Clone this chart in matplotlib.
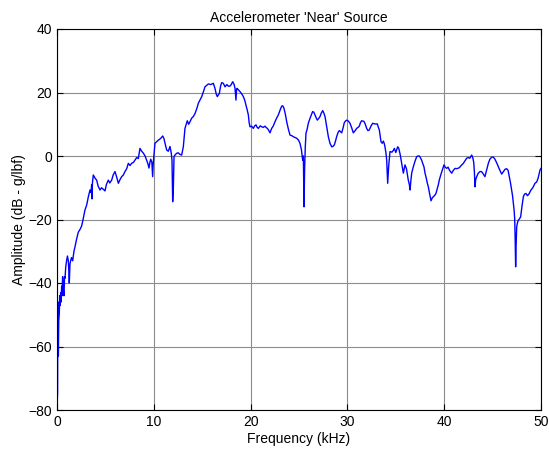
import matplotlib
matplotlib.use("Agg")
import matplotlib.pyplot as plt

freq_khz = [0.04, 0.06, 0.08, 0.1, 0.12, 0.14, 0.18, 0.24, 0.28, 0.33, 0.38, 0.43, 0.48, 0.52,
            0.58, 0.65, 0.72, 0.78, 0.83, 0.9, 1.0, 1.08, 1.17, 1.22, 1.27, 1.34, 1.41,
            1.5, 1.62, 1.75, 1.86, 2.0, 2.2, 2.4, 2.55, 2.72, 2.89, 3.07, 3.24, 3.41,
            3.52, 3.58, 3.62, 3.66, 3.75, 3.85, 3.93, 4.1, 4.25, 4.44, 4.6, 4.79, 4.96,
            5.1, 5.3, 5.45, 5.65, 5.8, 5.99, 6.15, 6.34, 6.5, 6.68, 6.85, 7.02, 7.2,
            7.37, 7.55, 7.71, 7.9, 8.06, 8.23, 8.4, 8.57, 8.75, 8.92, 9.1, 9.26, 9.4,
            9.5, 9.6, 9.68, 9.8, 9.88, 9.95, 10.12, 10.3, 10.47, 10.7, 10.92, 11.05,
            11.16, 11.33, 11.5, 11.67, 11.8, 11.88, 11.95, 12.02, 12.09, 12.19, 12.36,
            12.53, 12.7, 12.88, 13.05, 13.22, 13.35, 13.46, 13.6, 13.74, 13.91, 14.1,
            14.26, 14.45, 14.6, 14.8, 14.95, 15.1, 15.29, 15.45, 15.63, 15.9, 16.15,
            16.32, 16.45, 16.56, 16.77, 16.9, 17.01, 17.18, 17.36, 17.55, 17.7, 17.87,
            18.0, 18.15, 18.3, 18.39, 18.45, 18.49, 18.55, 18.6, 18.75, 18.9, 19.1,
            19.25, 19.4, 19.52, 19.65, 19.77, 19.85, 19.94, 20.1, 20.28, 20.42, 20.56,
            20.68, 20.8, 21.0, 21.15, 21.3, 21.49, 21.6, 21.73, 21.85, 22.0, 22.18,
            22.35, 22.52, 22.7, 22.86, 23.05, 23.21, 23.33, 23.45, 23.6, 23.73, 23.9,
            24.07, 24.25, 24.41, 24.6, 24.76, 24.95, 25.1, 25.25, 25.38, 25.45, 25.52,
            25.58, 25.65, 25.72, 25.86, 25.96, 26.14, 26.3, 26.41, 26.53, 26.65, 26.78,
            26.89, 27.03, 27.17, 27.3, 27.45, 27.57, 27.69, 27.85, 28.03, 28.2, 28.38,
            28.5, 28.65, 28.78, 28.89, 29.05, 29.17, 29.3, 29.41, 29.55, 29.68, 29.8,
            29.93, 30.1, 30.27, 30.45, 30.61, 30.8, 30.96, 31.1, 31.23, 31.35, 31.47,
            31.6, 31.71, 31.85, 31.99, 32.12, 32.26, 32.45, 32.61, 32.85, 33.09, 33.2,
            33.3, 33.4, 33.47, 33.6, 33.71, 33.8, 33.88, 33.98, 34.06, 34.11, 34.16,
            34.21, 34.26, 34.33, 34.4, 34.6, 34.75, 34.85, 35.0, 35.1, 35.19, 35.3,
            35.45, 35.61, 35.7, 35.78, 35.87, 35.95, 36.1, 36.29, 36.4, 36.47, 36.55,
            36.64, 36.81, 37.0, 37.16, 37.3, 37.43, 37.55, 37.67, 37.8, 37.91, 38.02,
            38.15, 38.26, 38.36, 38.5, 38.64, 38.75, 38.88, 39.0, 39.15, 39.27, 39.39,
            39.5, 39.64, 39.8, 39.98, 40.1, 40.26, 40.4, 40.55, 40.77, 40.95, 41.12,
            41.3, 41.56, 41.75, 41.98, 42.15, 42.32, 42.5, 42.65, 42.84, 42.95, 43.05,
            43.12, 43.18, 43.25, 43.36, 43.5, 43.7, 43.85, 44.0, 44.21, 44.38, 44.56,
            44.72, 44.9, 45.05, 45.2, 45.4, 45.59, 45.75, 45.94, 46.1, 46.28, 46.45,
            46.6, 46.73, 46.85, 46.97, 47.06, 47.14, 47.22, 47.28, 47.33, 47.38, 47.43,
            47.49, 47.57, 47.66, 47.78, 47.9, 48.05, 48.18, 48.3, 48.45, 48.6, 48.75,
            48.97, 49.15, 49.38, 49.55, 49.7, 49.9, 50.0]

amplitude_db = [-76.0, -74.7, -48.0, -60.0, -46.0, -63.0, -52.0, -49.5, -44.0, -47.0, -43.0, -46.0, -41.0, -44.0,
                -38.0, -42.0, -44.0, -38.0, -38.5, -35.0, -32.8, -31.5, -33.0, -36.0, -40.0, -34.0, -33.0,
                -32.0, -33.0, -30.0, -28.6, -26.5, -24.0, -23.0, -22.0, -19.6, -17.0, -15.4, -12.8, -10.7,
                -11.5, -9.0, -13.5, -8.5, -6.0, -6.5, -7.0, -7.6, -9.5, -10.7, -10.0, -10.5, -11.0,
                -9.0, -7.6, -8.5, -7.6, -6.0, -4.9, -6.5, -8.6, -7.5, -6.5, -6.0, -4.9, -4.0,
                -2.3, -3.0, -2.3, -2.0, -1.3, -0.5, -0.8, 2.4, 1.5, 0.9, 0.0, -1.3, -2.5,
                -3.8, -2.0, -1.0, -2.0, -6.5, -2.0, 4.0, 4.5, 5.0, 5.5, 6.3, 5.5,
                4.0, 1.9, 1.5, 3.0, 1.0, -1.3, -14.4, -10.0, -0.2, 0.3, 0.85,
                1.0, 0.5, 0.3, 2.9, 8.7, 10.0, 11.1, 10.0, 10.8, 11.9, 12.5,
                13.4, 15.0, 16.6, 17.8, 18.7, 20.0, 21.8, 22.2, 22.7, 22.5, 22.9,
                21.3, 19.5, 18.7, 19.7, 22.0, 23.1, 22.9, 21.8, 22.5, 22.0, 22.0,
                22.5, 23.4, 22.5, 21.3, 19.0, 17.6, 21.0, 21.3, 20.8, 20.3, 19.5,
                18.7, 17.5, 16.1, 14.5, 12.9, 10.5, 9.2, 9.4, 8.7, 9.5, 9.8,
                9.0, 8.7, 9.5, 9.2, 9.0, 9.4, 9.0, 8.7, 8.2, 7.3, 8.7,
                9.5, 10.8, 12.0, 12.9, 14.5, 15.7, 15.8, 15.0, 13.0, 10.8, 8.5,
                6.6, 6.4, 6.1, 5.8, 5.6, 5.0, 4.0, 2.0, -1.3, 0.0, -16.0,
                -4.0, 2.9, 7.1, 8.7, 10.3, 11.9, 13.2, 14.0, 13.8, 12.9, 12.0,
                11.3, 11.8, 12.4, 13.5, 14.3, 13.5, 12.4, 9.5, 6.1, 4.0, 2.9,
                3.0, 3.5, 4.8, 6.1, 7.5, 8.0, 7.6, 7.3, 8.8, 10.5, 11.0,
                11.3, 11.0, 10.3, 8.8, 7.3, 8.0, 8.7, 9.0, 9.4, 10.5, 11.1,
                11.0, 10.9, 10.0, 8.7, 8.0, 8.2, 9.5, 10.3, 10.1, 10.1, 9.0,
                8.2, 6.0, 4.5, 4.0, 4.7, 4.0, 2.9, 1.0, -1.3, -5.0, -8.6,
                -6.0, -3.4, -1.0, 1.4, 1.2, 1.8, 2.4, 1.1, 2.0, 2.9, 2.5,
                0.5, -2.3, -4.0, -5.4, -4.0, -2.8, -4.0, -7.6, -9.0, -10.7, -8.0,
                -5.4, -3.4, -1.5, -0.2, 0.0, 0.0, -0.6, -1.3, -2.5, -3.4, -5.4,
                -7.0, -8.6, -9.7, -12.0, -14.1, -13.3, -12.8, -12.5, -11.8, -10.5, -9.1,
                -7.5, -6.0, -4.5, -2.8, -3.5, -3.9, -3.5, -4.5, -5.4, -4.5, -3.9,
                -4.0, -3.7, -3.0, -2.3, -1.5, -0.7, -0.5, -0.7, 0.3, -0.5, -2.0,
                -5.0, -9.7, -7.5, -6.5, -5.5, -4.9, -4.9, -5.5, -6.5, -4.5, -2.3,
                -1.0, -0.4, -0.3, -0.8, -2.0, -3.4, -4.5, -5.7, -5.0, -4.2, -4.0,
                -4.5, -6.5, -8.5, -10.7, -12.5, -14.9, -17.0, -19.6, -26.0, -34.9, -28.0,
                -22.3, -21.0, -20.2, -19.8, -19.1, -15.5, -12.8, -12.0, -11.8, -12.5, -12.0,
                -10.7, -10.0, -8.6, -8.2, -7.0, -4.4, -3.9]

x_ticks = [0, 10, 20, 30, 40, 50]
y_ticks = [-80, -60, -40, -20, 0, 20, 40]
title_text = "Accelerometer 'Near' Source"
x_label = "Frequency (kHz)"
y_label = "Amplitude (dB - g/lbf)"

plt.rcParams['font.family'] = ['Liberation Sans', 'DejaVu Sans']

fig = plt.figure(figsize=(5.49, 4.55), dpi=100)
ax = fig.add_axes([57 / 549, 45 / 455, 484 / 549, 381 / 455])
ax.plot(freq_khz, amplitude_db, color='#0000ff', linewidth=1.0)
ax.set_xlim(0, 50)
ax.set_ylim(-80, 40)
ax.set_xticks(x_ticks)
ax.set_yticks(y_ticks)
ax.grid(True, color='#8c8c8c', linewidth=0.8)
ax.set_axisbelow(True)
ax.tick_params(direction='in', length=4, width=0.8, labelsize=10, top=True, right=True,
               labeltop=False, labelright=False)
for s in ax.spines.values():
    s.set_linewidth(0.8)
ax.set_title(title_text, fontsize=10, pad=5)
ax.set_xlabel(x_label, fontsize=10, labelpad=2)
ax.set_ylabel(y_label, fontsize=10, labelpad=2)
fig.savefig("out.png", dpi=100)
